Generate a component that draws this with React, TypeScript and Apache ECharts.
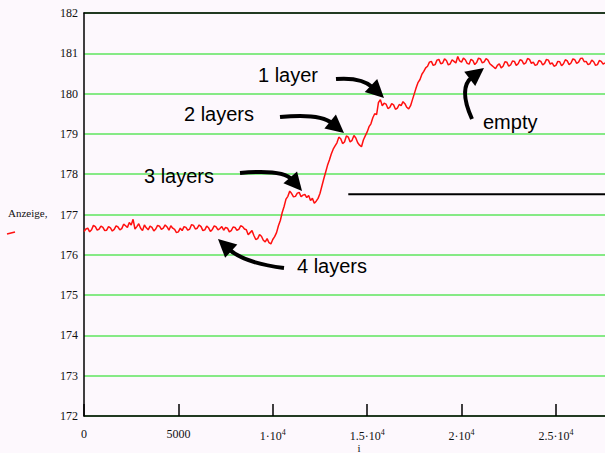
import React, { useEffect, useRef } from "react";
import * as echarts from "echarts";

// Sample index step of the recorded readings (i axis)
const SAMPLE_STEP = 100;

// "Anzeige" readings, one per SAMPLE_STEP of i, starting at i = 0
const readings = [
  176.58, 176.64, 176.66, 176.57, 176.62, 176.73, 176.70, 176.61, 176.64, 176.71,
  176.68, 176.60, 176.61, 176.70, 176.67, 176.59, 176.63, 176.72, 176.69, 176.62,
  176.65, 176.76, 176.72, 176.68, 176.80, 176.74, 176.88, 176.64, 176.70, 176.77,
  176.66, 176.60, 176.74, 176.67, 176.62, 176.71, 176.68, 176.59, 176.64, 176.73,
  176.71, 176.63, 176.66, 176.74, 176.69, 176.61, 176.72, 176.66, 176.63, 176.55,
  176.57, 176.66, 176.60, 176.70, 176.68, 176.61, 176.64, 176.75, 176.73, 176.64,
  176.66, 176.74, 176.70, 176.60, 176.62, 176.71, 176.67, 176.58, 176.63, 176.72,
  176.69, 176.62, 176.65, 176.70, 176.61, 176.68, 176.66, 176.57, 176.60, 176.69,
  176.68, 176.61, 176.63, 176.72, 176.70, 176.64, 176.62, 176.50, 176.55, 176.60,
  176.48, 176.38, 176.40, 176.50, 176.46, 176.36, 176.32, 176.40, 176.30, 176.27,
  176.38, 176.45, 176.55, 176.72, 176.85, 177.05, 177.20, 177.38, 177.45, 177.58,
  177.52, 177.44, 177.45, 177.53, 177.55, 177.44, 177.48, 177.50, 177.42, 177.47,
  177.35, 177.40, 177.28, 177.33, 177.40, 177.52, 177.70, 177.88, 178.05, 178.22,
  178.35, 178.50, 178.62, 178.70, 178.78, 178.92, 178.88, 178.76, 178.80, 178.95,
  178.92, 178.80, 178.84, 178.96, 178.90, 178.78, 178.72, 178.68, 178.85, 178.95,
  179.05, 179.18, 179.25, 179.40, 179.50, 179.48, 179.78, 179.85, 179.70, 179.76,
  179.74, 179.63, 179.66, 179.75, 179.72, 179.61, 179.64, 179.73, 179.70, 179.80,
  179.75, 179.66, 179.62, 179.70, 179.85, 180.00, 180.15, 180.28, 180.35, 180.48,
  180.55, 180.64, 180.68, 180.78, 180.80, 180.70, 180.72, 180.83, 180.85, 180.74,
  180.76, 180.86, 180.82, 180.71, 180.74, 180.84, 180.80, 180.76, 180.92, 180.81,
  180.78, 180.88, 180.84, 180.75, 180.73, 180.85, 180.82, 180.72, 180.77, 180.88,
  180.86, 180.76, 180.79, 180.87, 180.83, 180.74, 180.70, 180.66, 180.62, 180.70,
  180.74, 180.64, 180.68, 180.79, 180.78, 180.68, 180.71, 180.81, 180.80, 180.70,
  180.74, 180.84, 180.82, 180.73, 180.76, 180.87, 180.85, 180.75, 180.78, 180.70,
  180.72, 180.82, 180.80, 180.71, 180.75, 180.85, 180.83, 180.73, 180.76, 180.68,
  180.70, 180.80, 180.79, 180.69, 180.74, 180.84, 180.81, 180.72, 180.76, 180.86,
  180.84, 180.75, 180.78, 180.87, 180.88, 180.79, 180.80, 180.72, 180.74, 180.83,
  180.79, 180.70, 180.72, 180.82, 180.80, 180.73, 180.76,
];

// Black reference line
const refLineI = [14000, 27600];
const refLineValue = [177.5, 177.5];

// Axis ranges
const X_MIN = 0;
const X_MAX = 27600;
const X_INTERVAL = 5000;
const Y_MIN = 172;
const Y_MAX = 182;
const Y_INTERVAL = 1;

// Tick labels of the i axis
const xTickLabels: Record<number, string> = {
  0: "0",
  5000: "5000",
  10000: "1·10{sup|4}",
  15000: "1.5·10{sup|4}",
  20000: "2·10{sup|4}",
  25000: "2.5·10{sup|4}",
};

const annotationFont = "Liberation Sans, Arial, sans-serif";
const serif = "Liberation Serif, DejaVu Serif, serif";

function arrow(sx: number, sy: number, cx: number, cy: number, tx: number, ty: number) {
  const L = 18;
  const W = 9;
  const dx = tx - cx;
  const dy = ty - cy;
  const len = Math.hypot(dx, dy);
  const ux = dx / len;
  const uy = dy / len;
  const bx = tx - ux * L;
  const by = ty - uy * L;
  const px = -uy;
  const py = ux;
  return [
    {
      type: "bezierCurve",
      shape: { x1: sx, y1: sy, cpx1: cx, cpy1: cy, x2: bx + ux * 3, y2: by + uy * 3 },
      style: { stroke: "#000", lineWidth: 4, fill: "none" },
      z: 100,
    },
    {
      type: "polygon",
      shape: { points: [[tx, ty], [bx + px * W, by + py * W], [bx - px * W, by - py * W]] },
      style: { fill: "#000" },
      z: 100,
    },
  ];
}

function label(text: string, x: number, y: number) {
  return {
    type: "text",
    x,
    y,
    z: 100,
    style: {
      text,
      fill: "#000",
      font: `20px ${annotationFont}`,
      align: "left",
      verticalAlign: "middle",
    },
  };
}

export default function App() {
  const ref = useRef<HTMLDivElement>(null);

  useEffect(() => {
    if (!ref.current) return;
    const chart = echarts.init(ref.current, undefined, { renderer: "svg" });
    const readingData = readings.map((v, k) => [k * SAMPLE_STEP, v]);
    const refData = refLineI.map((i, k) => [i, refLineValue[k]]);

    chart.setOption({
      animation: false,
      backgroundColor: "#fdf8fd",
      grid: { left: 84, right: 0, top: 13, bottom: 37, containLabel: false },
      xAxis: [
        {
          type: "value",
          min: X_MIN,
          max: X_MAX,
          interval: X_INTERVAL,
          axisLine: { show: true, onZero: false, lineStyle: { color: "#000", width: 1.5 } },
          axisTick: { show: true, inside: true, length: 12, lineStyle: { color: "#000", width: 1.5 } },
          splitLine: { show: false },
          axisLabel: {
            margin: 12,
            showMaxLabel: false,
            color: "#111",
            fontFamily: serif,
            fontSize: 12,
            formatter: (v: number) => (xTickLabels[v] !== undefined ? xTickLabels[v] : ""),
            rich: {
              sup: { fontSize: 8, fontFamily: serif, color: "#111", verticalAlign: "top", padding: [0, 0, 8, 0] },
            },
          },
        },
        {
          type: "value",
          position: "top",
          min: X_MIN,
          max: X_MAX,
          axisLine: { show: true, onZero: false, lineStyle: { color: "#000", width: 1.5 } },
          axisTick: { show: false },
          axisLabel: { show: false },
          splitLine: { show: false },
        },
      ],
      yAxis: {
        type: "value",
        min: Y_MIN,
        max: Y_MAX,
        interval: Y_INTERVAL,
        axisLine: { show: true, onZero: false, lineStyle: { color: "#000", width: 1.5 } },
        axisTick: { show: false },
        splitLine: { show: true, lineStyle: { color: "#5ee65e", width: 1.5 } },
        axisLabel: { margin: 6, color: "#111", fontFamily: serif, fontSize: 12 },
      },
      series: [
        {
          type: "line",
          data: readingData,
          showSymbol: false,
          lineStyle: { color: "#ff1010", width: 1.5 },
          z: 5,
        },
        {
          type: "line",
          data: refData,
          showSymbol: false,
          lineStyle: { color: "#000", width: 2 },
          z: 4,
        },
      ],
      graphic: [
        {
          type: "text",
          x: 8,
          y: 213,
          style: { text: "Anzeige,", fill: "#111", font: `11px ${serif}`, verticalAlign: "middle" },
        },
        {
          type: "line",
          shape: { x1: 7, y1: 234, x2: 15, y2: 232 },
          style: { stroke: "#ff1010", lineWidth: 1.5 },
        },
        {
          type: "text",
          x: 359,
          y: 448,
          style: { text: "i", fill: "#111", font: `11px ${serif}`, align: "center", verticalAlign: "middle" },
        },
        label("1 layer", 258, 75),
        ...arrow(336, 79, 362, 77, 384, 98),
        label("2 layers", 184, 114),
        ...arrow(280, 117, 320, 113, 344, 133),
        label("3 layers", 144, 176),
        ...arrow(240, 173, 283, 169, 302, 191),
        label("4 layers", 297, 266),
        ...arrow(284, 268, 244, 263, 218, 239),
        label("empty", 483, 122),
        ...arrow(472, 119, 458, 88, 484, 68),
      ],
    });

    return () => chart.dispose();
  }, []);

  return (
    <div
      ref={ref}
      style={{ position: "fixed", left: 0, top: 0, width: 605, height: 453 }}
    />
  );
}
